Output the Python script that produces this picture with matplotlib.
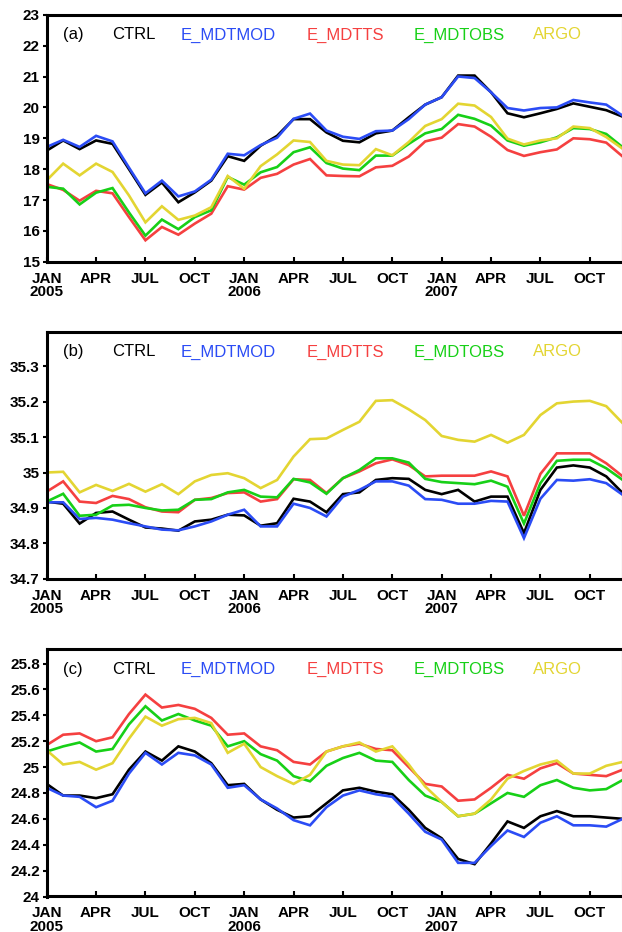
# Monthly time series, three panels (a)-(c), Jan 2005 - Dec 2007

import numpy as np
import matplotlib
matplotlib.use('Agg')
import matplotlib.pyplot as plt

months = np.arange(36)
tick_pos = np.arange(0, 36, 3)
tick_labels = ['JAN\n2005', 'APR', 'JUL', 'OCT',
               'JAN\n2006', 'APR', 'JUL', 'OCT',
               'JAN\n2007', 'APR', 'JUL', 'OCT']

series_names = ['CTRL', 'E_MDTMOD', 'E_MDTTS', 'E_MDTOBS', 'ARGO']
colors = ['#000000', '#2b4cf5', '#f54040', '#17d017', '#e3d532']

# panel (a)
a_ctrl = [18.60, 18.93, 18.65, 18.93, 18.82, 18.00, 17.17, 17.57, 16.93, 17.25, 17.63, 18.42,
          18.27, 18.76, 19.08, 19.62, 19.62, 19.19, 18.92, 18.87, 19.16, 19.25, 19.68, 20.09,
          20.33, 21.03, 21.03, 20.49, 19.81, 19.68, 19.81, 19.95, 20.13, 20.02, 19.91, 19.70]
a_mod = [18.72, 18.95, 18.72, 19.08, 18.90, 18.05, 17.22, 17.63, 17.12, 17.28, 17.66, 18.50,
         18.45, 18.78, 19.02, 19.63, 19.80, 19.25, 19.05, 18.98, 19.23, 19.25, 19.62, 20.09,
         20.33, 21.00, 20.95, 20.49, 19.98, 19.90, 19.98, 20.00, 20.24, 20.16, 20.09, 19.73]
a_ts = [17.52, 17.33, 16.98, 17.30, 17.22, 16.45, 15.70, 16.13, 15.88, 16.24, 16.56, 17.45,
        17.34, 17.72, 17.85, 18.15, 18.33, 17.80, 17.78, 17.77, 18.06, 18.11, 18.41, 18.90,
        19.02, 19.46, 19.38, 19.05, 18.62, 18.43, 18.55, 18.64, 19.00, 18.97, 18.86, 18.41]
a_obs = [17.43, 17.37, 16.86, 17.24, 17.39, 16.60, 15.85, 16.37, 16.06, 16.45, 16.67, 17.75,
         17.50, 17.90, 18.07, 18.55, 18.71, 18.20, 18.02, 17.97, 18.44, 18.44, 18.82, 19.16,
         19.30, 19.76, 19.63, 19.41, 18.93, 18.76, 18.87, 19.03, 19.33, 19.30, 19.14, 18.71]
a_argo = [17.64, 18.18, 17.80, 18.18, 17.91, 17.15, 16.28, 16.80, 16.36, 16.50, 16.77, 17.78,
          17.37, 18.10, 18.48, 18.93, 18.88, 18.27, 18.15, 18.13, 18.65, 18.45, 18.88, 19.40,
          19.62, 20.12, 20.06, 19.69, 18.99, 18.80, 18.93, 19.00, 19.38, 19.33, 19.04, 18.66]

# panel (b)
b_ctrl = [34.918, 34.912, 34.856, 34.886, 34.890, 34.867, 34.845, 34.842, 34.836, 34.862, 34.867, 34.881,
          34.879, 34.850, 34.857, 34.926, 34.918, 34.888, 34.939, 34.944, 34.979, 34.984, 34.982, 34.951,
          34.939, 34.951, 34.918, 34.932, 34.932, 34.829, 34.951, 35.014, 35.020, 35.014, 34.989, 34.942]
b_mod = [34.916, 34.916, 34.869, 34.872, 34.867, 34.857, 34.848, 34.839, 34.837, 34.848, 34.862, 34.881,
         34.895, 34.848, 34.848, 34.912, 34.900, 34.876, 34.932, 34.951, 34.975, 34.975, 34.963, 34.925,
         34.923, 34.912, 34.912, 34.920, 34.918, 34.815, 34.926, 34.979, 34.977, 34.981, 34.970, 34.937]
b_ts = [34.946, 34.975, 34.918, 34.914, 34.934, 34.925, 34.902, 34.890, 34.888, 34.923, 34.928, 34.942,
        34.944, 34.918, 34.925, 34.981, 34.979, 34.942, 34.984, 35.003, 35.026, 35.037, 35.021, 34.989,
        34.991, 34.991, 34.991, 35.003, 34.989, 34.878, 34.996, 35.054, 35.054, 35.054, 35.026, 34.989]
b_obs = [34.918, 34.940, 34.878, 34.881, 34.907, 34.909, 34.900, 34.893, 34.895, 34.923, 34.925, 34.944,
         34.951, 34.932, 34.930, 34.982, 34.972, 34.940, 34.984, 35.007, 35.040, 35.040, 35.028, 34.982,
         34.973, 34.970, 34.967, 34.977, 34.960, 34.856, 34.970, 35.033, 35.036, 35.036, 35.012, 34.979]
b_argo = [35.000, 35.002, 34.944, 34.965, 34.948, 34.968, 34.946, 34.967, 34.939, 34.975, 34.993, 34.998,
          34.984, 34.956, 34.979, 35.045, 35.094, 35.096, 35.120, 35.143, 35.202, 35.204, 35.178, 35.148,
          35.103, 35.092, 35.087, 35.106, 35.084, 35.106, 35.162, 35.195, 35.200, 35.202, 35.187, 35.139]

# panel (c)
c_ctrl = [24.87, 24.78, 24.78, 24.76, 24.79, 24.98, 25.12, 25.05, 25.16, 25.12, 25.03, 24.86,
          24.87, 24.75, 24.67, 24.61, 24.62, 24.72, 24.82, 24.84, 24.81, 24.79, 24.67, 24.53,
          24.45, 24.29, 24.25, 24.41, 24.58, 24.53, 24.62, 24.66, 24.62, 24.62, 24.61, 24.60]
c_mod = [24.84, 24.78, 24.77, 24.69, 24.74, 24.95, 25.11, 25.02, 25.11, 25.09, 25.02, 24.84,
         24.86, 24.75, 24.68, 24.59, 24.55, 24.69, 24.78, 24.82, 24.79, 24.77, 24.64, 24.50,
         24.44, 24.26, 24.26, 24.39, 24.51, 24.46, 24.57, 24.62, 24.55, 24.55, 24.54, 24.60]
c_ts = [25.17, 25.25, 25.26, 25.20, 25.23, 25.41, 25.56, 25.46, 25.48, 25.45, 25.38, 25.25,
        25.26, 25.16, 25.13, 25.04, 25.02, 25.12, 25.16, 25.18, 25.14, 25.13, 25.00, 24.87,
        24.85, 24.74, 24.75, 24.84, 24.94, 24.91, 24.99, 25.03, 24.95, 24.94, 24.93, 24.98]
c_obs = [25.12, 25.16, 25.19, 25.12, 25.14, 25.33, 25.47, 25.36, 25.41, 25.36, 25.32, 25.16,
         25.20, 25.10, 25.05, 24.93, 24.89, 25.01, 25.07, 25.11, 25.05, 25.04, 24.90, 24.78,
         24.73, 24.62, 24.64, 24.72, 24.80, 24.77, 24.86, 24.90, 24.84, 24.82, 24.83, 24.90]
c_argo = [25.13, 25.02, 25.04, 24.98, 25.03, 25.22, 25.39, 25.32, 25.37, 25.38, 25.34, 25.11,
          25.18, 25.00, 24.93, 24.87, 24.94, 25.12, 25.16, 25.19, 25.12, 25.16, 25.02, 24.85,
          24.73, 24.62, 24.64, 24.75, 24.91, 24.97, 25.02, 25.05, 24.95, 24.95, 25.01, 25.04]

panels = [
    ('(a)', [a_ctrl, a_mod, a_ts, a_obs, a_argo], (15, 23), [15, 16, 17, 18, 19, 20, 21, 22, 23],
     ['15', '16', '17', '18', '19', '20', '21', '22', '23']),
    ('(b)', [b_ctrl, b_mod, b_ts, b_obs, b_argo], (34.7, 35.397), [34.7, 34.8, 34.9, 35.0, 35.1, 35.2, 35.3],
     ['34.7', '34.8', '34.9', '35', '35.1', '35.2', '35.3']),
    ('(c)', [c_ctrl, c_mod, c_ts, c_obs, c_argo], (24, 25.91), [24, 24.2, 24.4, 24.6, 24.8, 25, 25.2, 25.4, 25.6, 25.8],
     ['24', '24.2', '24.4', '24.6', '24.8', '25', '25.2', '25.4', '25.6', '25.8']),
]

plt.rcParams['font.family'] = ['Liberation Sans', 'DejaVu Sans']

fig = plt.figure(figsize=(6.22, 9.32), dpi=100)
W, H = 622.0, 932.0
left = 46.7 / W
width = 576.0 / W
tops = [14.7, 331.7, 649.3]
height = 247.2 / H

label_x = [0.0283, 0.1139, 0.2333, 0.4521, 0.6362, 0.8446]

for (tag, data, ylim, yticks, ylabels), top in zip(panels, tops):
    ax = fig.add_axes([left, 1 - (top / H) - height, width, height])
    for vals, c in zip(data, colors):
        ax.plot(months, vals, color=c, lw=1.9, solid_joinstyle='miter')
    ax.set_xlim(0, 35)
    ax.set_ylim(*ylim)
    ax.set_xticks(tick_pos)
    ax.set_xticklabels(tick_labels, fontweight='bold', fontsize=11, linespacing=0.95)
    ax.set_yticks(yticks)
    ax.set_yticklabels(ylabels, fontweight='bold', fontsize=11)
    ax.tick_params(axis='x', direction='in', length=3.5, width=1.5, pad=7)
    ax.tick_params(axis='y', direction='out', length=3, width=1.5, pad=2)
    for s in ax.spines.values():
        s.set_linewidth(2.2)
    ax.text(label_x[0], 0.918, tag, transform=ax.transAxes, fontsize=12, va='center', ha='left')
    for name, c, x in zip(series_names, colors, label_x[1:]):
        ax.text(x, 0.918, name, transform=ax.transAxes, fontsize=12, color=c, va='center', ha='left')

fig.savefig('out.png', dpi=100)
